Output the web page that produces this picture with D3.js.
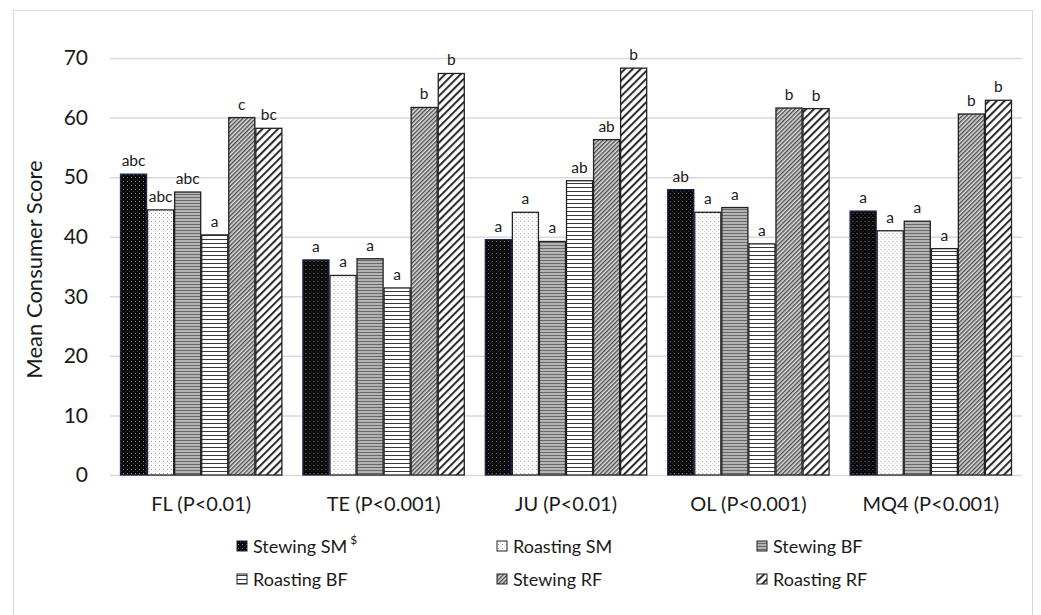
<!DOCTYPE html>
<html>
<head>
<meta charset="utf-8">
<script src="https://cdn.jsdelivr.net/npm/d3@7"></script>
<style>
  html, body { margin: 0; padding: 0; background: #fff; }
  svg { display: block; font-family: Lato, "Open Sans", sans-serif; }
</style>
</head>
<body>
<svg id="chart" width="1041" height="615"></svg>
<script>
// Sensory attributes (groups along the x axis)
const categories = ["FL (P<0.01)", "TE (P<0.001)", "JU (P<0.01)", "OL (P<0.001)", "MQ4 (P<0.001)"];
// Cooking method × meat type
const seriesNames = ["Stewing SM", "Roasting SM", "Stewing BF", "Roasting BF", "Stewing RF", "Roasting RF"];

// Mean consumer scores, one array per series (in category order)
const stewingSM  = [50.5, 36.1, 39.5, 47.9, 44.3];
const roastingSM = [44.5, 33.5, 44.1, 44.1, 41.0];
const stewingBF  = [47.5, 36.3, 39.2, 44.9, 42.6];
const roastingBF = [40.3, 31.4, 49.4, 38.8, 38.0];
const stewingRF  = [60.0, 61.7, 56.3, 61.6, 60.6];
const roastingRF = [58.2, 67.4, 68.3, 61.5, 62.9];

// Significance letters, one array per series
const lettersStewingSM  = ["abc", "a", "a", "ab", "a"];
const lettersRoastingSM = ["abc", "a", "a", "a", "a"];
const lettersStewingBF  = ["abc", "a", "a", "a", "a"];
const lettersRoastingBF = ["a", "a", "ab", "a", "a"];
const lettersStewingRF  = ["c", "b", "ab", "b", "b"];
const lettersRoastingRF = ["bc", "b", "b", "b", "b"];

const yTicks = [0, 10, 20, 30, 40, 50, 60, 70];

const seriesValues = [stewingSM, roastingSM, stewingBF, roastingBF, stewingRF, roastingRF];
const seriesLetters = [lettersStewingSM, lettersRoastingSM, lettersStewingBF, lettersRoastingBF, lettersStewingRF, lettersRoastingRF];

const svg = d3.select("#chart");

// Outer chart frame
svg.append("rect")
  .attr("x", 13.5).attr("y", 10.5)
  .attr("width", 1019).attr("height", 610)
  .attr("fill", "#fff").attr("stroke", "#d9d9d9").attr("stroke-width", 1);

// ---------- fill patterns ----------
const defs = svg.append("defs");

// dark dotted
let p = defs.append("pattern").attr("id", "pat0").attr("patternUnits", "userSpaceOnUse")
  .attr("width", 4).attr("height", 4);
p.append("rect").attr("width", 4).attr("height", 4).attr("fill", "#050505");
p.append("rect").attr("x", 1).attr("y", 1).attr("width", 1).attr("height", 1).attr("fill", "#8a8a8a");
p.append("rect").attr("x", 3).attr("y", 3).attr("width", 1).attr("height", 1).attr("fill", "#3a3a3a");

// light dotted
p = defs.append("pattern").attr("id", "pat1").attr("patternUnits", "userSpaceOnUse")
  .attr("width", 4).attr("height", 4);
p.append("rect").attr("width", 4).attr("height", 4).attr("fill", "#fff");
p.append("rect").attr("x", 1).attr("y", 1).attr("width", 1).attr("height", 1).attr("fill", "#9a9a9a");
p.append("rect").attr("x", 3).attr("y", 3).attr("width", 1).attr("height", 1).attr("fill", "#d0d0d0");

// grey horizontal stripes
p = defs.append("pattern").attr("id", "pat2").attr("patternUnits", "userSpaceOnUse")
  .attr("width", 4).attr("height", 3);
p.append("rect").attr("width", 4).attr("height", 3).attr("fill", "#b4b4b4");
p.append("rect").attr("y", 2).attr("width", 4).attr("height", 1).attr("fill", "#6a6a6a");

// white with dark horizontal lines
p = defs.append("pattern").attr("id", "pat3").attr("patternUnits", "userSpaceOnUse")
  .attr("width", 4).attr("height", 4);
p.append("rect").attr("width", 4).attr("height", 4).attr("fill", "#fff");
p.append("rect").attr("y", 3).attr("width", 4).attr("height", 1).attr("fill", "#3a3a3a");

// fine diagonal hatch
p = defs.append("pattern").attr("id", "pat4").attr("patternUnits", "userSpaceOnUse")
  .attr("width", 3).attr("height", 3).attr("patternTransform", "rotate(45)");
p.append("rect").attr("width", 3).attr("height", 3).attr("fill", "#e0e0e0");
p.append("rect").attr("width", 1.4).attr("height", 3).attr("fill", "#4a4a4a");

// wide diagonal stripes
p = defs.append("pattern").attr("id", "pat5").attr("patternUnits", "userSpaceOnUse")
  .attr("width", 5.5).attr("height", 5.5).attr("patternTransform", "rotate(45)");
p.append("rect").attr("width", 5.5).attr("height", 5.5).attr("fill", "#fff");
p.append("rect").attr("width", 2).attr("height", 5.5).attr("fill", "#2a2a2a");

const strokes = ["#1c2350", "#222", "#222", "#222", "#222", "#222"];

// ---------- scales ----------
const plot = { left: 110, right: 1022, top: 58, bottom: 475 };

const x0 = d3.scaleBand().domain(categories).range([plot.left, plot.right]).paddingInner(0).paddingOuter(0);
const x1 = d3.scaleBand().domain(d3.range(seriesNames.length))
  .range([0, x0.bandwidth()]).paddingInner(0).paddingOuter(0.37);
const y = d3.scaleLinear().domain([0, 70]).range([plot.bottom, plot.top]);

// gridlines
svg.append("g")
  .selectAll("line").data(yTicks).join("line")
  .attr("x1", plot.left).attr("x2", plot.right)
  .attr("y1", d => y(d) + 0.5).attr("y2", d => y(d) + 0.5)
  .attr("stroke", "#d9d9d9").attr("stroke-width", 1.5);

// y axis tick labels
const yAxis = d3.axisLeft(y).tickValues(yTicks).tickSize(0).tickPadding(22);
const gy = svg.append("g").attr("transform", `translate(${plot.left},0)`).call(yAxis);
gy.select(".domain").remove();
gy.selectAll("text").attr("font-family", "Lato, sans-serif").attr("font-size", 21).attr("fill", "#1a1a1a");

// y axis title
svg.append("text")
  .attr("transform", `translate(42,${(plot.top + plot.bottom) / 2 + 3}) rotate(-90)`)
  .attr("text-anchor", "middle")
  .attr("font-size", 22).attr("fill", "#1a1a1a")
  .text("Mean Consumer Score");

// x axis category labels
const xAxis = d3.axisBottom(x0).tickSize(0).tickPadding(22);
const gx = svg.append("g").attr("transform", `translate(0,${plot.bottom})`).call(xAxis);
gx.select(".domain").remove();
gx.selectAll("text").attr("font-family", "Lato, sans-serif").attr("font-size", 20).attr("fill", "#1a1a1a");

// bars with significance letters
const groups = svg.append("g").selectAll("g").data(categories).join("g")
  .attr("transform", d => `translate(${x0(d)},0)`);

groups.each(function (cat, ci) {
  const g = d3.select(this);
  seriesValues.forEach((vals, si) => {
    const v = vals[ci];
    g.append("rect")
      .attr("x", x1(si) + 0.5)
      .attr("y", y(v))
      .attr("width", x1.bandwidth() - 1)
      .attr("height", y(0) - y(v))
      .attr("fill", `url(#pat${si})`)
      .attr("stroke", strokes[si]).attr("stroke-width", 1.3);
    g.append("text")
      .attr("x", x1(si) + x1.bandwidth() / 2)
      .attr("y", y(v) - 8)
      .attr("text-anchor", "middle")
      .attr("font-size", 15.5).attr("fill", "#1a1a1a")
      .text(seriesLetters[si][ci]);
  });
});

// legend
const legendCols = [237, 497, 757];
const legendRows = [547, 580];
const legend = svg.append("g").selectAll("g").data(seriesNames).join("g")
  .attr("transform", (d, i) => `translate(${legendCols[i % 3]},${legendRows[Math.floor(i / 3)]})`);
legend.append("rect")
  .attr("x", 0).attr("y", -6).attr("width", 10).attr("height", 10)
  .attr("fill", (d, i) => `url(#pat${i})`)
  .attr("stroke", (d, i) => strokes[i]).attr("stroke-width", 1);
legend.append("text")
  .attr("x", 16).attr("y", 6)
  .attr("font-size", 18).attr("fill", "#1a1a1a")
  .text(d => d);
// superscript marker on the first legend entry
legend.filter((d, i) => i === 0).select("text")
  .append("tspan").attr("dy", -9).attr("dx", 3).attr("font-size", 12).text("$");
</script>
</body>
</html>
